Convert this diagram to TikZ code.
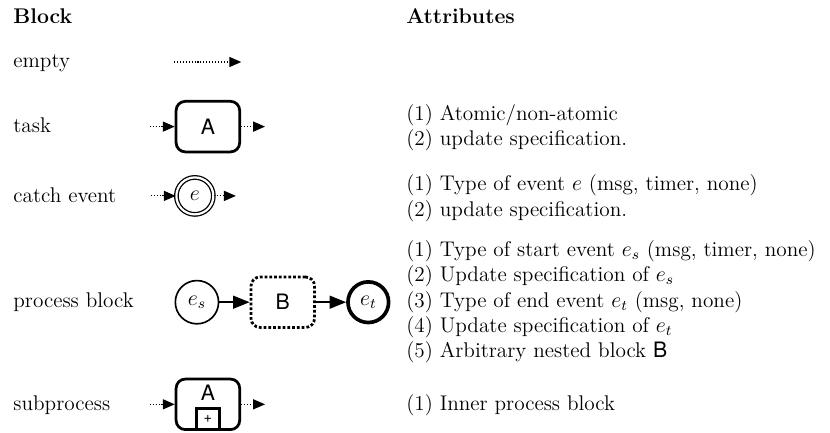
\documentclass[tikz,border=0pt]{standalone}
\usepackage{amsmath}
\usepackage{fontspec}
\setsansfont{TeX Gyre Heros}
\usepackage{tikz}
\usetikzlibrary{positioning, shapes, arrows.meta, calc}

\begin{document}
\fontsize{11.6pt}{13.9pt}\selectfont
\begin{tikzpicture}[
    box/.style={draw, line width=1.5pt, rounded corners=5pt, minimum width=1.22cm, minimum height=0.97cm, inner sep=0pt, font=\sffamily},
    nestbox/.style={box, dash pattern=on 1.5pt off 1.1pt},
    smallbox/.style={draw, line width=1.5pt, minimum width=0.44cm, minimum height=0.40cm, inner sep=0pt, font=\sffamily\footnotesize},
    event/.style={circle, draw, line width=0.9pt, minimum size=0.83cm, inner sep=0pt},
    endevent/.style={event, line width=2pt, minimum size=0.78cm},
    catchevent/.style={circle, draw, double, line width=0.7pt, double distance=1.2pt, minimum size=0.71cm, inner sep=0pt},
    flow/.style={-{Triangle[length=6.5pt, width=5.5pt]}, line width=0.6pt, densely dotted},
    arrow/.style={-{Triangle[length=9pt, width=7pt]}, line width=1pt},
    lbl/.style={anchor=base west, inner sep=0pt},
    attr/.style={anchor=base west, inner sep=0pt, align=left},
]
\useasboundingbox (0,0) rectangle (15.93,-8.31);

% Headers
\node[lbl, font=\bfseries] (blockhead) at (0.25,-0.46) {Block};
\node[lbl, font=\bfseries] (attrhead) at (7.79,-0.46) {Attributes};

% Empty
\node[lbl] (emptylbl) at (0.25,-1.29) {empty};
\coordinate (empty-a) at (3.34,-1.19);
\coordinate[right=1.29cm of empty-a] (empty-b);
\draw[flow] (empty-a) -- (empty-b);

% Task
\node[lbl] (tasklbl) at (0.25,-2.55) {task};
\node[box] (task) at (3.99,-2.43) {A};
\coordinate[left=0.48cm of task] (task-in);
\coordinate[right=0.46cm of task] (task-out);
\draw[flow] (task-in) -- (task);
\draw[flow] (task) -- (task-out);
\node[attr] (taskattr) at (7.79,-2.80) {(1) Atomic/non-atomic\\(2) update specification.};

% Catch event
\node[lbl] (catchlbl) at (0.25,-3.89) {catch event};
\node[catchevent] (catch) at (3.74,-3.76) {$e$};
\coordinate[left=0.48cm of catch] (catch-in);
\coordinate[right=0.42cm of catch] (catch-out);
\draw[flow] (catch-in) -- (catch);
\draw[flow] (catch) -- (catch-out);
\node[attr] (catchattr) at (7.79,-4.15) {(1) Type of event $e$ (msg, timer, none)\\(2) update specification.};

% Process block
\node[lbl] (proclbl) at (0.25,-5.91) {process block};
\node[event] (es) at (3.78,-5.80) {$e_s$};
\node[nestbox, right=0.58cm of es] (nested) {B};
\node[endevent, right=0.58cm of nested] (et) {$e_t$};
\draw[arrow] (es) -- (nested);
\draw[arrow] (nested) -- (et);
\node[attr] (procattr) at (7.79,-6.87) {(1) Type of start event $e_s$ (msg, timer, none)\\(2) Update specification of $e_s$\\(3) Type of end event $e_t$ (msg, none)\\(4) Update specification of $e_t$\\(5) Arbitrary nested block \textsf{B}};

% Subprocess
\node[lbl] (sublbl) at (0.25,-7.87) {subprocess};
\node[box] (sub) at (3.99,-7.76) {};
\node[font=\sffamily, inner sep=0pt, below=4pt of sub.north] (subname) {A};
\node[smallbox, above=0pt of sub.south] (subplus) {+};
\coordinate[left=0.48cm of sub] (sub-in);
\coordinate[right=0.46cm of sub] (sub-out);
\draw[flow] (sub-in) -- (sub);
\draw[flow] (sub) -- (sub-out);
\node[attr] (subattr) at (7.79,-7.87) {(1) Inner process block};

\end{tikzpicture}
\end{document}
